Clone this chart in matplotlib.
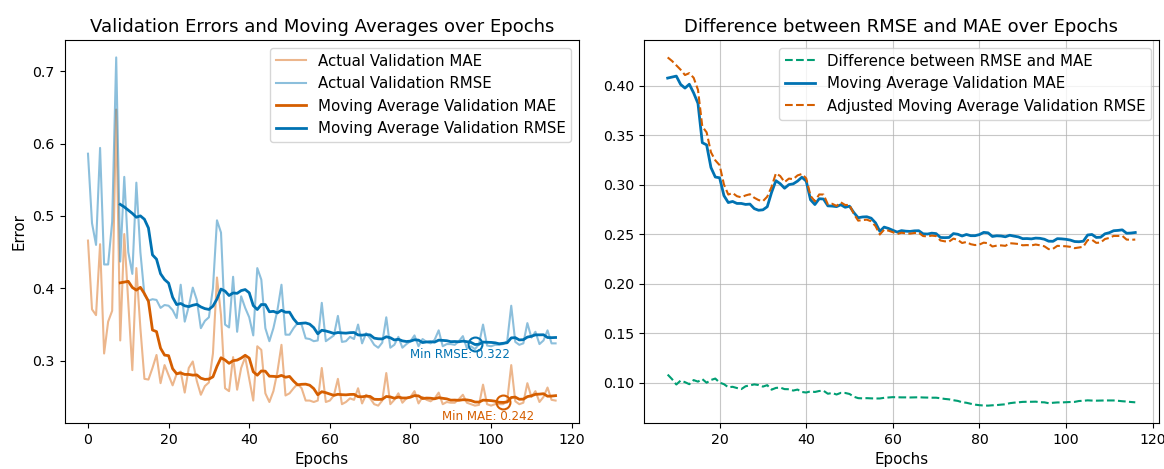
import numpy as np
import pandas as pd
import matplotlib
matplotlib.use('Agg')
import matplotlib.pyplot as plt

# ── Data ──────────────────────────────────────────────────────────────────────
epochs = np.arange(117)

val_mae = [
    0.466, 0.371, 0.363, 0.461, 0.310, 0.354, 0.369, 0.647, 0.328, 0.475,   # 0-9
    0.380, 0.287, 0.428, 0.345, 0.275, 0.274, 0.290, 0.308, 0.269, 0.294,   # 10-19
    0.280, 0.266, 0.282, 0.285, 0.256, 0.290, 0.299, 0.272, 0.253, 0.265,   # 20-29
    0.270, 0.310, 0.415, 0.363, 0.262, 0.258, 0.305, 0.260, 0.290, 0.305,   # 30-39
    0.275, 0.245, 0.320, 0.315, 0.255, 0.243, 0.258, 0.285, 0.322, 0.252,   # 40-49
    0.255, 0.262, 0.268, 0.262, 0.245, 0.245, 0.243, 0.245, 0.290, 0.243,   # 50-59
    0.245, 0.252, 0.275, 0.240, 0.243, 0.248, 0.246, 0.262, 0.241, 0.253,   # 60-69
    0.248, 0.240, 0.238, 0.245, 0.283, 0.240, 0.246, 0.255, 0.242, 0.248,   # 70-79
    0.250, 0.258, 0.241, 0.250, 0.246, 0.244, 0.248, 0.256, 0.240, 0.243,   # 80-89
    0.242, 0.242, 0.247, 0.253, 0.242, 0.240, 0.238, 0.239, 0.267, 0.240,   # 90-99
    0.238, 0.240, 0.240, 0.240, 0.245, 0.294, 0.244, 0.240, 0.242, 0.269,   # 100-109
    0.250, 0.258, 0.243, 0.250, 0.263, 0.246, 0.245,                        # 110-116
]

val_rmse = [
    0.586, 0.490, 0.460, 0.594, 0.433, 0.433, 0.492, 0.719, 0.437, 0.554,   # 0-9
    0.450, 0.420, 0.546, 0.450, 0.391, 0.383, 0.385, 0.384, 0.373, 0.377,   # 10-19
    0.376, 0.370, 0.359, 0.405, 0.354, 0.375, 0.401, 0.384, 0.345, 0.355,   # 20-29
    0.360, 0.400, 0.494, 0.477, 0.350, 0.346, 0.416, 0.340, 0.389, 0.373,   # 30-39
    0.360, 0.335, 0.428, 0.412, 0.345, 0.327, 0.345, 0.370, 0.405, 0.336,   # 40-49
    0.336, 0.345, 0.352, 0.350, 0.331, 0.330, 0.327, 0.328, 0.380, 0.327,   # 50-59
    0.331, 0.335, 0.362, 0.326, 0.327, 0.333, 0.330, 0.350, 0.324, 0.338,   # 60-69
    0.331, 0.322, 0.318, 0.325, 0.360, 0.318, 0.322, 0.333, 0.318, 0.323,   # 70-79
    0.327, 0.335, 0.320, 0.330, 0.326, 0.324, 0.329, 0.342, 0.320, 0.323,   # 80-89
    0.323, 0.322, 0.327, 0.334, 0.317, 0.320, 0.316, 0.323, 0.350, 0.321,   # 90-99
    0.320, 0.322, 0.322, 0.323, 0.327, 0.376, 0.326, 0.322, 0.324, 0.352,   # 100-109
    0.332, 0.340, 0.323, 0.328, 0.342, 0.324, 0.324,                        # 110-116
]

WINDOW = 9

# Colours (Okabe-Ito)
C_BLUE   = '#0072B2'
C_ORANGE = '#D55E00'
C_GREEN  = '#009E73'

plt.rcParams['font.size'] = 10.8
plt.rcParams['xtick.labelsize'] = 10.2
plt.rcParams['ytick.labelsize'] = 10.2

# ── Derived series ────────────────────────────────────────────────────────────
df = pd.DataFrame({'mae': val_mae, 'rmse': val_rmse}, index=epochs)
ma = df.rolling(WINDOW).mean().dropna()
ma_mae, ma_rmse = ma['mae'], ma['rmse']
diff = ma_rmse - ma_mae
adj_rmse = ma_rmse - diff.mean()

i_mae = ma_mae.idxmin()
i_rmse = ma_rmse.idxmin()

# ── Figure ────────────────────────────────────────────────────────────────────
fig, (ax1, ax2) = plt.subplots(1, 2, figsize=(11.64, 4.69), dpi=100)
fig.subplots_adjust(left=0.0555, right=0.9954, top=0.9147, bottom=0.098, wspace=0.127)

# left: raw + moving averages
ax1.plot(epochs, df['mae'], color=C_ORANGE, alpha=0.45, lw=1.5, label='Actual Validation MAE')
ax1.plot(epochs, df['rmse'], color=C_BLUE, alpha=0.45, lw=1.5, label='Actual Validation RMSE')
ax1.plot(ma_mae.index, ma_mae, color=C_ORANGE, lw=2, label='Moving Average Validation MAE')
ax1.plot(ma_rmse.index, ma_rmse, color=C_BLUE, lw=2, label='Moving Average Validation RMSE')

ax1.plot(i_mae, ma_mae[i_mae], 'o', mfc='none', mec=C_ORANGE, ms=10, mew=1.5)
ax1.plot(i_rmse, ma_rmse[i_rmse], 'o', mfc='none', mec=C_BLUE, ms=10, mew=1.5)
ax1.annotate(f'Min MAE: {ma_mae[i_mae]:.3f}', (i_mae, ma_mae[i_mae]),
             xytext=(-11, -10.5), textcoords='offset points',
             ha='center', va='center', fontsize=8.6, color=C_ORANGE)
ax1.annotate(f'Min RMSE: {ma_rmse[i_rmse]:.3f}', (i_rmse, ma_rmse[i_rmse]),
             xytext=(-11, -7.5), textcoords='offset points',
             ha='center', va='center', fontsize=8.6, color=C_BLUE)

ax1.set_title('Validation Errors and Moving Averages over Epochs', fontsize=13)
ax1.set_xlabel('Epochs')
ax1.set_ylabel('Error')
ax1.legend(loc='upper right')

# right: difference
ax2.plot(diff.index, diff, '--', color=C_GREEN, lw=1.5, label='Difference between RMSE and MAE')
ax2.plot(ma_mae.index, ma_mae, color=C_BLUE, lw=2, label='Moving Average Validation MAE')
ax2.plot(adj_rmse.index, adj_rmse, '--', color=C_ORANGE, lw=1.5,
         label='Adjusted Moving Average Validation RMSE')
ax2.set_title('Difference between RMSE and MAE over Epochs', fontsize=13)
ax2.set_xlabel('Epochs')
ax2.grid(True, color='#b0b0b0', alpha=0.7)
ax2.legend(loc='upper right')

fig.savefig('out.png', dpi=100)
